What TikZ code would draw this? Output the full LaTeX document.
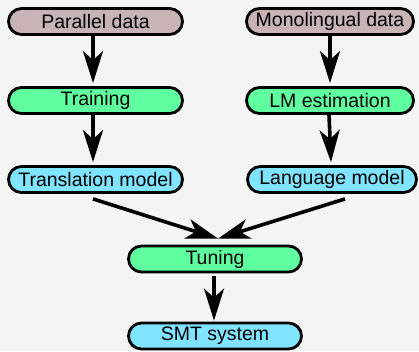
\documentclass[tikz,border=0pt]{standalone}
\usepackage{fontspec}
\setmainfont{Liberation Sans}
\usetikzlibrary{arrows.meta}
\definecolor{bgcol}{RGB}{244,244,244}
\definecolor{datacol}{RGB}{200,180,180}
\definecolor{proccol}{RGB}{95,255,160}
\definecolor{modelcol}{RGB}{128,228,255}
\tikzset{
  box/.style={draw=black, line width=2.8pt, rounded corners=13pt, inner sep=0pt,
    minimum height=26pt, font=\fontsize{19.5}{22}\selectfont, text=black},
  databox/.style={box, fill=datacol},
  procbox/.style={box, fill=proccol},
  modelbox/.style={box, fill=modelcol},
  conn/.style={line width=3.6pt, -{Stealth[length=32pt,width=20pt,inset=9pt]}}
}
\begin{document}
\begin{tikzpicture}[x=1pt,y=-1pt]
\fill[bgcol] (0,0) rectangle (419,351);
\useasboundingbox (0,0) rectangle (419,351);
\node[databox, minimum width=174pt] (pd) at (95.5,21.5) {Parallel data};
\node[procbox, minimum width=174pt] (tr) at (95.5,100.5) {Training};
\node[modelbox, minimum width=174pt] (tm) at (95.5,179.5) {Translation model};
\node[databox, minimum width=167pt] (md) at (330,21.5) {Monolingual data};
\node[procbox, minimum width=167pt] (lm) at (330,100.5) {LM estimation};
\node[modelbox, minimum width=169pt] (lg) at (332,179.5) {Language model};
\node[procbox, minimum width=173pt] (tun) at (215,259) {Tuning};
\node[modelbox, minimum width=173pt] (smt) at (215,336) {SMT system};
\draw[conn] ([xshift=-2.5pt]pd.south) -- ([xshift=-2.5pt,yshift=3pt]tr.north);
\draw[conn] (md.south) -- ([yshift=3pt]lm.north);
\draw[conn] ([xshift=-2.5pt]tr.south) -- ([xshift=-2.5pt,yshift=3pt]tm.north);
\draw[conn] ([xshift=-1pt]lm.south) -- ([xshift=-1pt,yshift=3pt]lg.north);
\draw[conn] ([xshift=-2.5pt,yshift=-5pt]tm.south) -- ([xshift=3pt,yshift=6pt]tun.north);
\draw[conn] ([xshift=13pt,yshift=-5pt]lg.south) -- ([xshift=3pt,yshift=6pt]tun.north);
\draw[conn] ([xshift=-1pt,yshift=-3pt]tun.south) -- ([xshift=-1pt,yshift=1pt]smt.north);
\end{tikzpicture}
\end{document}
